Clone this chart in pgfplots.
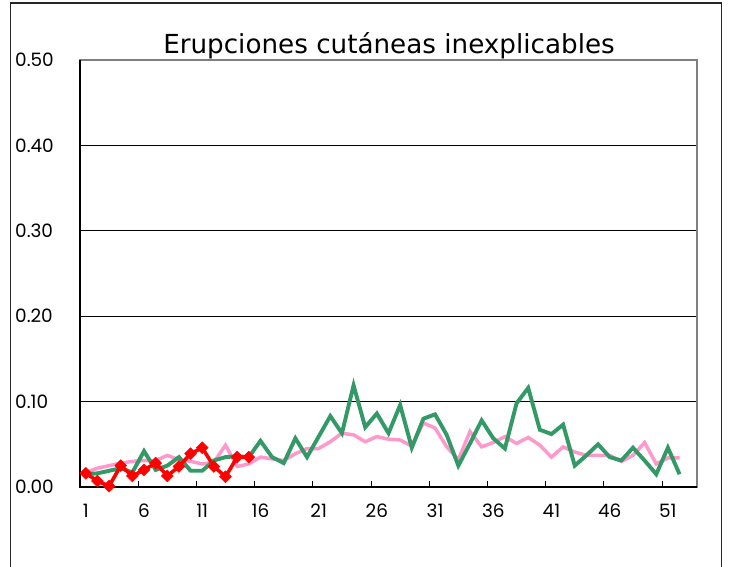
\documentclass[border=0pt]{standalone}
\usepackage{pgfplots}
\pgfplotsset{compat=1.18}
\usepackage{fontspec}
\setmainfont{DejaVu Sans}
\newfontfamily\tickfont{Poppins}
\definecolor{cpink}{HTML}{FF99CC}
\definecolor{cgreen}{HTML}{339966}
\definecolor{cred}{HTML}{FF0000}
\definecolor{cframe}{HTML}{808080}
\begin{document}
\begin{tikzpicture}[x=1bp,y=1bp]
\path[use as bounding box] (0,0) rectangle (732,567);
\draw[black!85, line width=1.5bp] (10.5,0) -- (10.5,564) -- (721.5,564) -- (721.5,0);
\node[anchor=base, font=\fontsize{26.3}{26.3}\selectfont] at (389,513) {Erupciones cutáneas inexplicables};
\begin{axis}[
  at={(80bp,80bp)}, anchor=south west,
  scale only axis, width=617bp, height=427bp,
  xmin=0.5, xmax=53.5, ymin=0, ymax=0.5,
  axis line style={draw=none},
  xtick={1,6,...,51},
  minor xtick={5.5,10.5,...,50.5},
  ytick={0,0.1,...,0.5},
  xtick pos=bottom, ytick pos=left,
  major tick length=0pt, minor tick length=6bp,
  tick align=inside,
  minor tick style={black, line width=1bp},
  ymajorgrids, grid style={black, line width=0.8bp},
  /pgf/number format/assume math mode=true,
  yticklabel={\pgfmathprintnumber[fixed,fixed zerofill,precision=2]{\tick}},
  ticklabel style={font=\tickfont\fontsize{18.5}{18.5}\selectfont, inner sep=0pt},
  yticklabel style={anchor=west, xshift=-65bp},
  xticklabel style={anchor=north, yshift=-17bp},
  clip=false,
]
\draw[cframe, line width=2.5bp] (rel axis cs:0,0) rectangle (rel axis cs:1,1);
\draw[black, line width=1.6bp] (rel axis cs:0,1) -- (rel axis cs:0,0) -- (rel axis cs:1,0);
\addplot[cpink, line width=3.5bp, no marks] coordinates {
(1,0.017) (2,0.022) (3,0.025) (4,0.028) (5,0.030) (6,0.031) (7,0.031) (8,0.037) (9,0.032) (10,0.030)
(11,0.027) (12,0.029) (13,0.049) (14,0.024) (15,0.027) (16,0.035) (17,0.033) (18,0.031) (19,0.039) (20,0.045)
(21,0.045) (22,0.053) (23,0.063) (24,0.061) (25,0.053) (26,0.059) (27,0.056) (28,0.055) (29,0.048) (30,0.075)
(31,0.069) (32,0.047) (33,0.032) (34,0.065) (35,0.047) (36,0.052) (37,0.059) (38,0.051) (39,0.058) (40,0.049)
(41,0.035) (42,0.047) (43,0.041) (44,0.037) (45,0.037) (46,0.037) (47,0.030) (48,0.037) (49,0.052) (50,0.027)
(51,0.034) (52,0.034)};
\addplot[cgreen, line width=3.9bp, no marks] coordinates {
(1,0.015) (2,0.016) (3,0.019) (4,0.022) (5,0.017) (6,0.042) (7,0.020) (8,0.025) (9,0.035) (10,0.019)
(11,0.019) (12,0.031) (13,0.035) (14,0.036) (15,0.035) (16,0.054) (17,0.035) (18,0.028) (19,0.057) (20,0.035)
(21,0.059) (22,0.083) (23,0.063) (24,0.119) (25,0.070) (26,0.086) (27,0.063) (28,0.096) (29,0.046) (30,0.080)
(31,0.085) (32,0.061) (33,0.025) (34,0.051) (35,0.078) (36,0.057) (37,0.045) (38,0.098) (39,0.116) (40,0.067)
(41,0.062) (42,0.073) (43,0.025) (44,0.037) (45,0.050) (46,0.035) (47,0.031) (48,0.046) (49,0.031) (50,0.015)
(51,0.046) (52,0.015)};
\addplot[cred, line width=3.6bp, mark=square*, mark size=4.2bp, mark options={rotate=45, solid, fill=cred, draw=cred, line width=0.5bp}] coordinates {
(1,0.016) (2,0.007) (3,0.001) (4,0.025) (5,0.013) (6,0.020) (7,0.028) (8,0.013) (9,0.024) (10,0.039)
(11,0.046) (12,0.024) (13,0.012) (14,0.035) (15,0.035)};
\end{axis}
\end{tikzpicture}
\end{document}
